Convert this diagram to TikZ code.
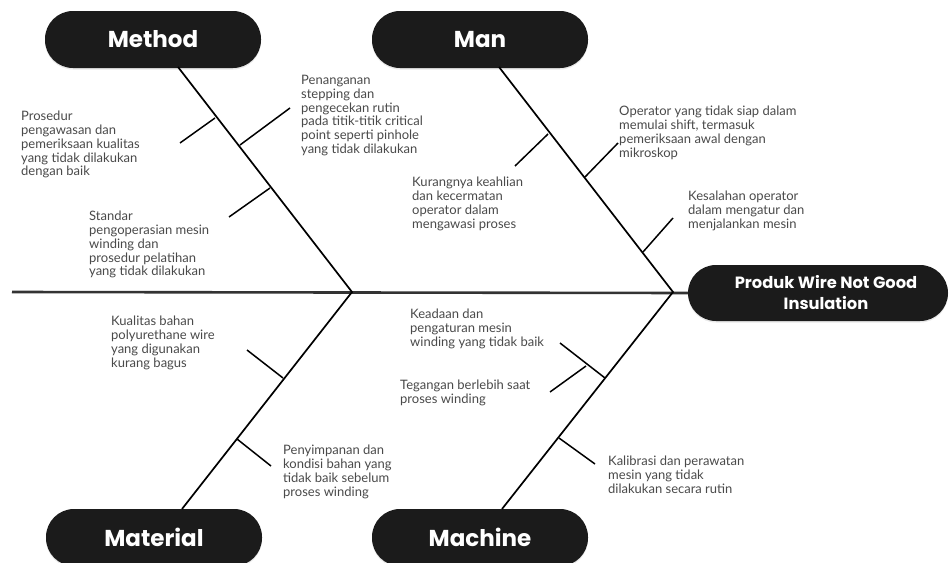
\documentclass[tikz,border=0pt]{standalone}
\usepackage{fontspec}
\setmainfont{Lato}
\newfontfamily\headfont{Poppins}
\usetikzlibrary{shadows}
\definecolor{boxblack}{HTML}{1B1B1B}
\definecolor{txtgray}{HTML}{4A4A4A}
\definecolor{spinegray}{HTML}{333333}
\tikzset{
  headbox/.style={draw=none, fill=boxblack, rounded corners=28pt, minimum width=216pt, minimum height=57pt,
    text=white, font=\headfont\bfseries\fontsize{23}{28}\selectfont, inner sep=0pt,
    drop shadow={opacity=0.18, shadow xshift=0pt, shadow yshift=-1.5pt}},
  effectbox/.style={draw=none, fill=boxblack, rounded corners=28pt, minimum width=260pt, minimum height=56pt,
    text=white, font=\headfont\bfseries\fontsize{16.3}{21}\selectfont, align=center, inner sep=0pt,
    drop shadow={opacity=0.18, shadow xshift=0pt, shadow yshift=-1.5pt}},
  bone/.style={line width=1.7pt, black},
  spine/.style={line width=2.6pt, spinegray},
  sub/.style={line width=1.5pt, black},
  txt/.style={font=\fontsize{13}{13.8}\selectfont, align=left, inner sep=0pt, anchor=north west, text=txtgray},
}
\begin{document}
\begin{tikzpicture}[x=1pt,y=-1pt]
\useasboundingbox (0,0) rectangle (950,562);
\fill[white] (0,0) rectangle (950,562);

% header boxes
\node[headbox] (method) at (153,39.5) {Method};
\node[headbox] (man) at (480,39.5) {Man};
\node[headbox] (material) at (154,537.5) {Material};
\node[headbox] (machine) at (480,537.5) {Machine};
\node[effectbox] (effect) at (818,293) {\hspace*{16pt}Produk Wire Not Good\\\hspace*{16pt}Insulation};

% coordinates
\coordinate (spineL) at (12,292);
\coordinate (J1) at (352,292);
\coordinate (J2) at (673,292);
\coordinate (mT) at (178,67);
\coordinate (maB) at (182,509);
\coordinate (manT) at (499,67);
\coordinate (mcB) at (502,509);

% spine
\draw[spine] (spineL) -- (effect.west);

% main bones
\draw[bone] (mT) -- (J1) -- (maB);
\draw[bone] (manT) -- (J2) -- (mcB);

% sub bones: Method
\coordinate (a1) at (215,118); \coordinate (a2) at (180,143);
\coordinate (b1) at (240,145); \coordinate (b2) at (290,108);
\coordinate (c1) at (270,188); \coordinate (c2) at (229,217);
\draw[sub] (a1) -- (a2);
\draw[sub] (b1) -- (b2);
\draw[sub] (c1) -- (c2);
% Man
\coordinate (d1) at (548,134); \coordinate (d2) at (515,166);
\coordinate (e1) at (585,177); \coordinate (e2) at (618,143);
\coordinate (f1) at (643,252); \coordinate (f2) at (673,218);
\draw[sub] (d1) -- (d2);
\draw[sub] (e1) -- (e2);
\draw[sub] (f1) -- (f2);
% Material
\coordinate (g1) at (283,378); \coordinate (g2) at (247,350);
\coordinate (h1) at (237,439); \coordinate (h2) at (271,466);
\draw[sub] (g1) -- (g2);
\draw[sub] (h1) -- (h2);
% Machine
\coordinate (i1) at (605,378); \coordinate (i2) at (560,343);
\coordinate (j1) at (586,366); \coordinate (j2) at (550,392);
\coordinate (k1) at (559,438); \coordinate (k2) at (595,464);
\draw[sub] (i1) -- (i2);
\draw[sub] (j1) -- (j2);
\draw[sub] (k1) -- (k2);

% texts
\node[txt] (t1) at (21,111) {Prosedur\\pengawasan dan\\pemeriksaan kualitas\\yang tidak dilakukan\\dengan baik};
\node[txt] (t2) at (301,75) {Penanganan\\stepping dan\\pengecekan rutin\\pada titik-titik critical\\point seperti pinhole\\yang tidak dilakukan};
\node[txt] (t3) at (89,211) {Standar\\pengoperasian mesin\\winding dan\\prosedur pelatihan\\yang tidak dilakukan};
\node[txt] (t4) at (412,177) {Kurangnya keahlian\\dan kecermatan\\operator dalam\\mengawasi proses};
\node[txt] (t5) at (619,106) {Operator yang tidak siap dalam\\memulai shift, termasuk\\pemeriksaan awal dengan\\mikroskop};
\node[txt] (t6) at (688,191) {Kesalahan operator\\dalam mengatur dan\\menjalankan mesin};
\node[txt] (t7) at (111,316) {Kualitas bahan\\polyurethane wire\\yang digunakan\\kurang bagus};
\node[txt] (t8) at (283,445) {Penyimpanan dan\\kondisi bahan yang\\tidak baik sebelum\\proses winding};
\node[txt] (t9) at (410,309) {Keadaan dan\\pengaturan mesin\\winding yang tidak baik};
\node[txt] (t10) at (400,380) {Tegangan berlebih saat\\proses winding};
\node[txt] (t11) at (608,456) {Kalibrasi dan perawatan\\mesin yang tidak\\dilakukan secara rutin};
\end{tikzpicture}
\end{document}
